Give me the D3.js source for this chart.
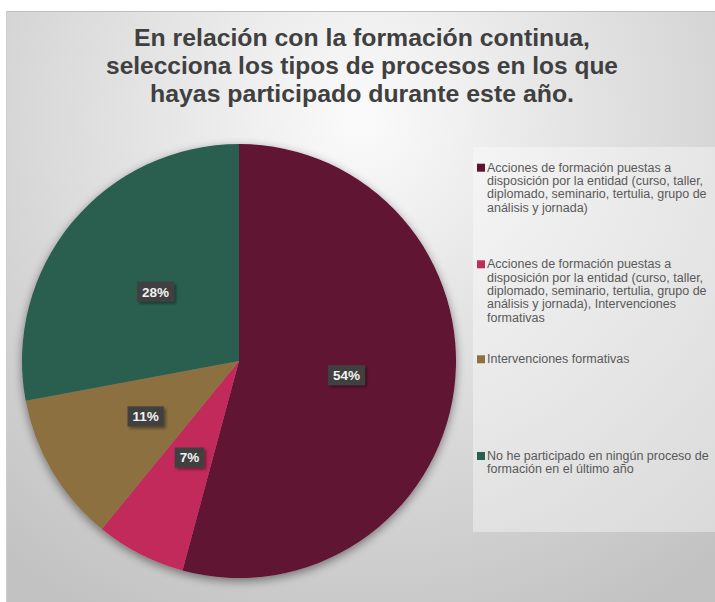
<!DOCTYPE html>
<html>
<head>
<meta charset="utf-8">
<script src="https://cdn.jsdelivr.net/npm/d3@7"></script>
<style>
  html, body { margin: 0; padding: 0; background: #fff; }
  svg { display: block; }
</style>
</head>
<body>
<script>
// ---- data ----
const categories = [
  "Acciones de formación puestas a disposición por la entidad (curso, taller, diplomado, seminario, tertulia, grupo de análisis y jornada)",
  "Acciones de formación puestas a disposición por la entidad (curso, taller, diplomado, seminario, tertulia, grupo de análisis y jornada), Intervenciones formativas",
  "Intervenciones formativas",
  "No he participado en ningún proceso de formación en el último año"
];
const values = [97, 12, 20, 50];
const colors = ["#611232", "#c12c5a", "#8c7040", "#2a5e50"];
const titleLines = [
  "En relación con la formación continua,",
  "selecciona los tipos de procesos en los que",
  "hayas participado durante este año."
];

// ---- layout ----
const W = 715, H = 602;
const svg = d3.select("body").append("svg").attr("width", W).attr("height", H);
const defs = svg.append("defs");

const bg = defs.append("radialGradient").attr("id", "bg")
  .attr("gradientUnits", "userSpaceOnUse")
  .attr("cx", 360).attr("cy", 120).attr("r", 560);
bg.append("stop").attr("offset", "0%").attr("stop-color", "#fbfbfb");
bg.append("stop").attr("offset", "35%").attr("stop-color", "#e6e6e6");
bg.append("stop").attr("offset", "100%").attr("stop-color", "#c2c2c2");

const sh = defs.append("filter").attr("id", "pieShadow")
  .attr("x", "-20%").attr("y", "-20%").attr("width", "140%").attr("height", "140%");
sh.append("feDropShadow").attr("dx", 0).attr("dy", 3).attr("stdDeviation", 5)
  .attr("flood-color", "#000").attr("flood-opacity", 0.45);

const lsh = defs.append("filter").attr("id", "lblShadow")
  .attr("x", "-30%").attr("y", "-30%").attr("width", "160%").attr("height", "160%");
lsh.append("feDropShadow").attr("dx", 2).attr("dy", 2).attr("stdDeviation", 1.5)
  .attr("flood-color", "#000").attr("flood-opacity", 0.4);

// chart area
svg.append("rect").attr("x", 6).attr("y", 11).attr("width", W - 6).attr("height", H - 11)
  .attr("fill", "url(#bg)");
svg.append("line").attr("x1", 6).attr("x2", W).attr("y1", 11.5).attr("y2", 11.5)
  .attr("stroke", "#bdbdbd").attr("stroke-width", 1);
svg.append("line").attr("x1", 6.5).attr("x2", 6.5).attr("y1", 11).attr("y2", H)
  .attr("stroke", "#cfcfcf").attr("stroke-width", 1);

// title
const titleWidths = [456, 512, 424];
svg.append("g").selectAll("text").data(titleLines).join("text")
  .attr("x", 362)
  .attr("y", (d, i) => 46 + i * 28)
  .attr("text-anchor", "middle")
  .attr("font-family", "Liberation Sans, Arial, sans-serif")
  .attr("font-weight", "bold")
  .attr("font-size", 24)
  .attr("fill", "#404040")
  .attr("textLength", (d, i) => titleWidths[i])
  .attr("lengthAdjust", "spacingAndGlyphs")
  .text(d => d);

// pie
const cx = 239, cy = 361, R = 217;
const pie = d3.pie().sort(null).value(d => d)(values);
const arc = d3.arc().innerRadius(0).outerRadius(R);
const total = d3.sum(values);

const gPie = svg.append("g").attr("transform", `translate(${cx},${cy})`);
gPie.append("g").attr("filter", "url(#pieShadow)")
  .selectAll("path").data(pie).join("path")
  .attr("d", arc)
  .attr("fill", (d, i) => colors[i]);

// data labels
const lblArc = d3.arc().innerRadius(0).outerRadius(R);
const lbls = gPie.append("g").selectAll("g").data(pie).join("g")
  .attr("transform", d => `translate(${lblArc.centroid(d)})`);
lbls.each(function(d) {
  const g = d3.select(this);
  const txt = Math.round(d.value / total * 100) + "%";
  const t = g.append("text")
    .attr("text-anchor", "middle")
    .attr("dy", "0.36em")
    .attr("font-family", "Liberation Sans, Arial, sans-serif")
    .attr("font-weight", "bold")
    .attr("font-size", 13.5)
    .attr("fill", "#f2f2f2")
    .text(txt);
  const bb = t.node().getBBox();
  g.insert("rect", "text")
    .attr("x", bb.x - 5).attr("y", -10)
    .attr("width", bb.width + 10).attr("height", 20)
    .attr("fill", "#404040")
    .attr("filter", "url(#lblShadow)");
});

// legend
svg.append("rect").attr("x", 473).attr("y", 147).attr("width", W - 473).attr("height", 385)
  .attr("fill", "#ffffff").attr("fill-opacity", 0.38);

const legFont = "Liberation Sans, Arial, sans-serif";
const legSize = 12.5;
const maxW = 224;
const measure = svg.append("text").attr("font-family", legFont).attr("font-size", legSize)
  .attr("visibility", "hidden");
function wrap(s) {
  const words = s.split(" ");
  const lines = [];
  let cur = "";
  for (const w of words) {
    const test = cur ? cur + " " + w : w;
    measure.text(test);
    if (measure.node().getComputedTextLength() > maxW && cur) {
      lines.push(cur);
      cur = w;
    } else cur = test;
  }
  if (cur) lines.push(cur);
  return lines;
}

const legTop = [171.7, 268.3, 363.3, 460];
const leg = svg.append("g").selectAll("g").data(categories).join("g")
  .attr("transform", (d, i) => `translate(477,${legTop[i]})`);
leg.append("rect").attr("x", 0).attr("y", -8).attr("width", 8).attr("height", 8)
  .attr("fill", (d, i) => colors[i]);
leg.append("text")
  .attr("font-family", legFont)
  .attr("font-size", legSize)
  .attr("fill", "#595959")
  .selectAll("tspan").data(d => wrap(d)).join("tspan")
  .attr("x", 10)
  .attr("y", (d, i) => i * 13.4)
  .text(d => d);
measure.remove();
</script>
</body>
</html>
